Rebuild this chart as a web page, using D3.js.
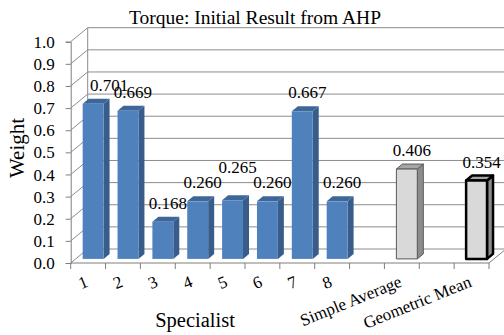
<!DOCTYPE html>
<html>
<head>
<meta charset="utf-8">
<script src="https://cdn.jsdelivr.net/npm/d3@7"></script>
<style>
  html, body { margin: 0; padding: 0; background: #fff; }
  svg { display: block; }
  svg text { font-family: "Liberation Serif", "DejaVu Serif", serif !important; fill: #000; }
</style>
</head>
<body>
<div id="chart"></div>
<script>
// ---- data ----
const specialists = ["1", "2", "3", "4", "5", "6", "7", "8"];
const specialistWeights = [0.701, 0.669, 0.168, 0.260, 0.265, 0.260, 0.667, 0.260];
const aggregates = ["Simple Average", "Geometric Mean"];
const aggregateWeights = [0.406, 0.354];
const yTicks = [0, 0.1, 0.2, 0.3, 0.4, 0.5, 0.6, 0.7, 0.8, 0.9, 1.0];
const titleText = "Torque: Initial Result from AHP";
const xTitle = "Specialist";
const yTitle = "Weight";

// category slots: specialists, a gap, simple average, a gap, geometric mean
const categories = [...specialists, "", aggregates[0], "", aggregates[1]];
const bars = [
  ...specialistWeights.map((v, i) => ({ slot: i, value: v, kind: "specialist" })),
  { slot: 9, value: aggregateWeights[0], kind: "average" },
  { slot: 11, value: aggregateWeights[1], kind: "geomean" }
];

// ---- layout ----
const W = 504, H = 335;
const SERIF = "'Liberation Serif', 'DejaVu Serif', serif";
const svg = d3.select("#chart").append("svg").attr("width", W).attr("height", H);

const x = d3.scaleBand().domain(d3.range(categories.length)).range([70.7, 489]).padding(0);
const y = d3.scaleLinear().domain([0, 1]).range([263, 41.7]);

// oblique depth of the chart box and of the bars
const wall = { dx: 17, dy: -14 };
const barFront = { dx: 5, dy: -4.1 };
const barDepth = { dx: 6, dy: -5 };
const barWidth = x.bandwidth() * 0.6;

const gridColor = "#8c8c8c";
const axisColor = "#7f7f7f";

const frame = svg.append("g").attr("fill", "none").attr("stroke-width", 1);

// back wall gridlines
frame.selectAll("line.grid").data(yTicks).join("line")
  .attr("class", "grid")
  .attr("x1", x.range()[0] + wall.dx).attr("x2", x.range()[1] + wall.dx)
  .attr("y1", d => y(d) + wall.dy).attr("y2", d => y(d) + wall.dy)
  .attr("stroke", gridColor);

// side wall gridlines
frame.selectAll("line.side").data(yTicks).join("line")
  .attr("class", "side")
  .attr("x1", x.range()[0]).attr("x2", x.range()[0] + wall.dx)
  .attr("y1", d => y(d)).attr("y2", d => y(d) + wall.dy)
  .attr("stroke", gridColor);

// wall corner
frame.append("line")
  .attr("x1", x.range()[0] + wall.dx).attr("x2", x.range()[0] + wall.dx)
  .attr("y1", y(1) + wall.dy).attr("y2", y(0) + wall.dy)
  .attr("stroke", gridColor);

// floor right edge
frame.append("line")
  .attr("x1", x.range()[1]).attr("x2", x.range()[1] + wall.dx)
  .attr("y1", y(0)).attr("y2", y(0) + wall.dy)
  .attr("stroke", axisColor);

// value axis
const yAxis = d3.axisLeft(y).tickValues(yTicks).tickFormat(d3.format(".1f")).tickSize(5).tickPadding(11);
const gy = svg.append("g").attr("transform", `translate(${x.range()[0]},0)`).call(yAxis)
  .attr("font-family", SERIF).attr("font-size", 17);
gy.select(".domain").attr("stroke", axisColor);
gy.selectAll(".tick line").attr("stroke", axisColor);
gy.selectAll(".tick text")
  .style("font-family", SERIF).style("font-size", "17px").attr("fill", "#000")
  .attr("dy", "0.33em");

// category axis
const tickBounds = d3.range(categories.length + 1).map(i => x.range()[0] + i * x.step());
svg.append("line")
  .attr("x1", x.range()[0]).attr("x2", x.range()[1])
  .attr("y1", y(0)).attr("y2", y(0))
  .attr("stroke", axisColor);
svg.selectAll("line.xtick").data(tickBounds).join("line")
  .attr("class", "xtick")
  .attr("x1", d => d).attr("x2", d => d)
  .attr("y1", y(0)).attr("y2", y(0) + 6)
  .attr("stroke", axisColor);

svg.selectAll("text.cat").data(categories.map((c, i) => ({ c, i })).filter(d => d.c !== "")).join("text")
  .attr("class", "cat")
  .style("font-family", SERIF).style("font-size", "17px")
  .attr("text-anchor", "end")
  .attr("transform", d => `translate(${x(d.i) + x.bandwidth() / 2 + 1},286) rotate(-22)`)
  .text(d => d.c);

// ---- bars ----
const palette = {
  specialist: { front: "#4f81bd", side: "#385d8a", top: "#3d6799", stroke: "none", sw: 0 },
  average:    { front: "#d9d9d9", side: "#8c8c8c", top: "#a6a6a6", stroke: "#595959", sw: 1 },
  geomean:    { front: "#d9d9d9", side: "#8c8c8c", top: "#a6a6a6", stroke: "#000", sw: 2.5 }
};

const gBars = svg.append("g");
bars.forEach(b => {
  const p = palette[b.kind];
  const cx = x(b.slot) + x.bandwidth() / 2 + barFront.dx;
  const x0 = cx - barWidth / 2, x1 = cx + barWidth / 2;
  const yt = y(b.value) + barFront.dy, yb = y(0) + barFront.dy;
  const g = gBars.append("g")
    .attr("stroke", p.stroke).attr("stroke-width", p.sw).attr("stroke-linejoin", "round");
  g.append("polygon")
    .attr("points", [[x1, yt], [x1 + barDepth.dx, yt + barDepth.dy], [x1 + barDepth.dx, yb + barDepth.dy], [x1, yb]].join(" "))
    .attr("fill", p.side);
  g.append("polygon")
    .attr("points", [[x0, yt], [x0 + barDepth.dx, yt + barDepth.dy], [x1 + barDepth.dx, yt + barDepth.dy], [x1, yt]].join(" "))
    .attr("fill", p.top);
  g.append("rect")
    .attr("x", x0).attr("y", yt).attr("width", barWidth).attr("height", yb - yt)
    .attr("fill", p.front);
});

// ---- value labels ----
const labelShift = { 0: [11, 0], 4: [0, -14] };
svg.selectAll("text.val").data(bars).join("text")
  .attr("class", "val")
  .style("font-family", SERIF).style("font-size", "17px")
  .attr("text-anchor", "middle")
  .attr("x", (d, i) => x(d.slot) + x.bandwidth() / 2 + barFront.dx + 5 + (labelShift[i] ? labelShift[i][0] : 0))
  .attr("y", (d, i) => y(d.value) + barFront.dy - 13 + (labelShift[i] ? labelShift[i][1] : 0))
  .text(d => d.value.toFixed(3));

// ---- titles ----
svg.append("text").attr("x", 255).attr("y", 24).attr("text-anchor", "middle")
  .style("font-family", SERIF).style("font-size", "19.5px").text(titleText);
svg.append("text").attr("x", 195).attr("y", 327).attr("text-anchor", "middle")
  .style("font-family", SERIF).style("font-size", "20.5px").text(xTitle);
svg.append("text").attr("text-anchor", "middle")
  .style("font-family", SERIF).style("font-size", "21px")
  .attr("transform", "translate(24,148) rotate(-90)").text(yTitle);
</script>
</body>
</html>
